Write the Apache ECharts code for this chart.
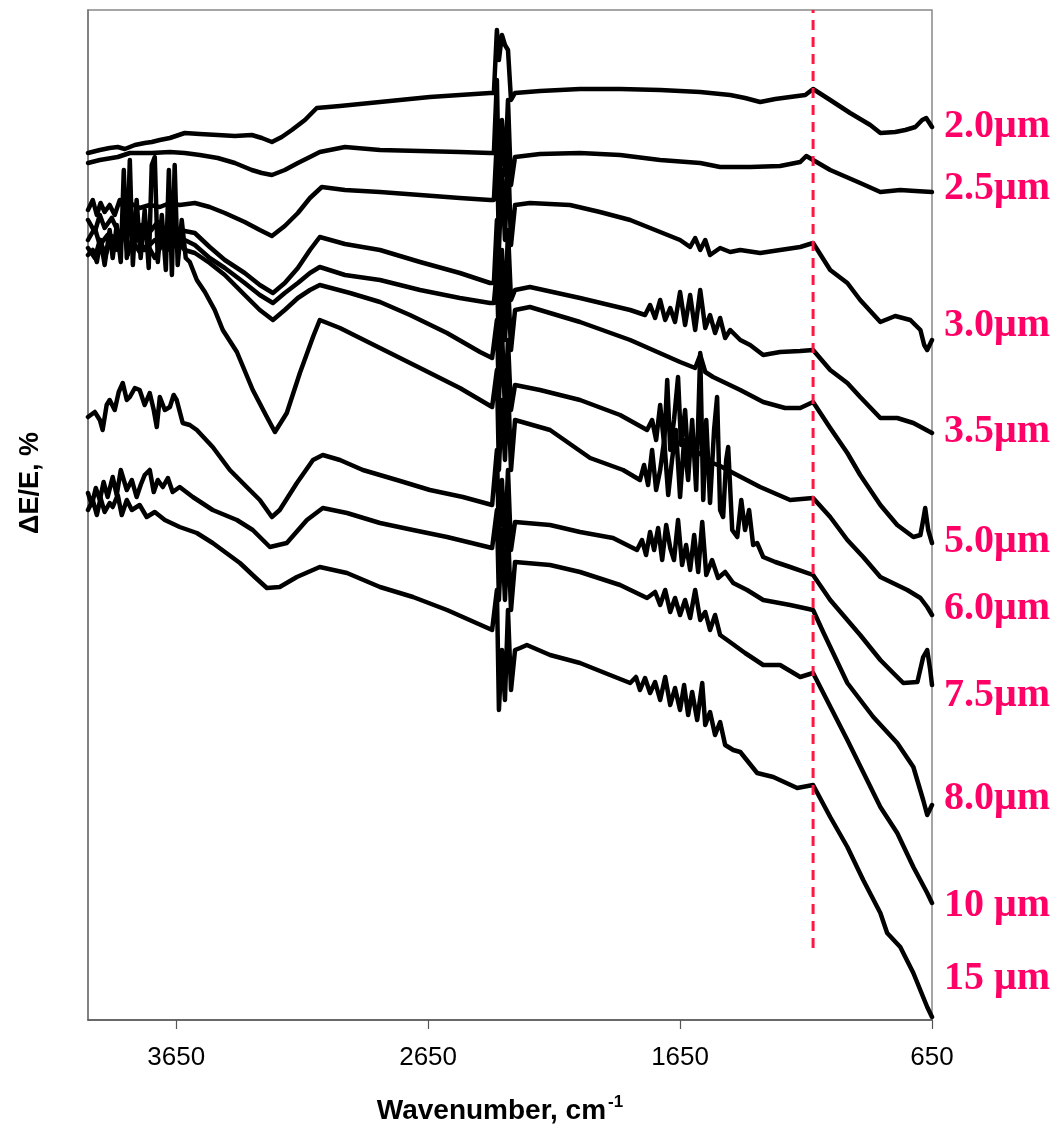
<!DOCTYPE html>
<html>
<head>
<meta charset="utf-8">
<script src="https://cdn.jsdelivr.net/npm/echarts@6/dist/echarts.min.js"></script>
<style>
html,body{margin:0;padding:0;background:#fff;}
#chart{width:1064px;height:1132px;}
</style>
</head>
<body>
<div id="chart"></div>
<script>
// Wavenumber tick labels (cm^-1)
const xTicks = [3650, 2650, 1650, 650];
// Curve labels (electrode thickness)
const labels = ['2.0\u03bcm','2.5\u03bcm','3.0\u03bcm','3.5\u03bcm','5.0\u03bcm','6.0\u03bcm','7.5\u03bcm','8.0\u03bcm','10 \u03bcm','15 \u03bcm'];
// Red dashed marker (wavenumber) and its extent in y
const markerWn = 1122;
const markerY = [7.2, 101];

// Spectra: [wavenumber, ΔE/E (offset, arbitrary units)]
const s2_0 = [[4000,86.7],[3953,87.0],[3914,87.2],[3882,87.3],[3854,87.1],[3814,87.5],[3775,87.7],[3747,87.8],[3715,88.0],[3675,88.2],[3616,88.7],[3556,88.6],[3485,88.5],[3417,88.4],[3350,88.5],[3310,88.2],[3270,87.8],[3231,88.3],[3191,89.0],[3139,90.0],[3092,91.2],[3000,91.4],[2881,91.7],[2762,92.0],[2643,92.3],[2524,92.5],[2404,92.7],[2389,92.7],[2377,99.0],[2369,96.0],[2357,98.5],[2345,97.5],[2333,97.0],[2321,92.0],[2305,92.7],[2206,92.9],[2047,93.1],[1888,93.1],[1729,93.0],[1570,92.8],[1451,92.5],[1392,92.2],[1332,91.8],[1272,92.1],[1213,92.3],[1153,92.5],[1122,93.1],[1054,92.0],[975,90.7],[895,89.5],[855,88.7],[796,88.8],[756,89.0],[716,89.3],[689,90.0],[673,90.2],[650,89.3]];
const s2_5 = [[4000,85.7],[3953,86.0],[3882,86.3],[3834,86.7],[3747,86.7],[3675,86.8],[3616,86.7],[3556,86.5],[3485,86.2],[3417,85.7],[3350,85.0],[3310,84.7],[3270,84.5],[3219,85.0],[3167,85.7],[3119,86.3],[3080,86.8],[2980,87.3],[2841,87.0],[2682,86.9],[2524,86.8],[2404,86.7],[2389,86.7],[2377,94.0],[2369,83.0],[2357,90.0],[2345,84.5],[2333,92.0],[2321,83.5],[2305,86.3],[2206,86.6],[2047,86.7],[1888,86.5],[1729,86.0],[1570,85.7],[1491,85.3],[1372,85.3],[1253,85.4],[1173,85.8],[1149,86.4],[1122,86.0],[1054,85.0],[935,83.7],[855,82.8],[776,83.0],[716,82.9],[650,82.8]];
const s3_0 = [[4000,81.0],[3981,82.0],[3965,80.5],[3950,81.7],[3934,80.8],[3914,81.5],[3894,80.5],[3874,82.0],[3854,81.0],[3834,81.7],[3795,81.2],[3755,81.5],[3715,81.3],[3675,81.7],[3636,81.5],[3576,81.7],[3517,81.3],[3457,80.7],[3378,79.8],[3318,79.0],[3270,78.4],[3219,79.4],[3167,80.7],[3119,82.2],[3072,83.3],[2980,83.0],[2841,82.8],[2682,82.5],[2524,82.2],[2404,82.0],[2389,82.0],[2377,88.0],[2369,77.0],[2357,85.0],[2345,78.0],[2333,87.0],[2321,77.5],[2305,81.5],[2246,81.7],[2087,81.5],[1968,80.8],[1848,80.0],[1729,78.8],[1650,78.0],[1610,77.3],[1590,78.2],[1570,77.0],[1550,78.0],[1531,76.5],[1491,77.2],[1451,76.8],[1411,77.0],[1332,76.7],[1253,77.0],[1173,77.3],[1122,77.7],[1054,75.0],[986,73.7],[935,72.0],[855,69.8],[796,70.4],[736,70.0],[696,69.0],[681,67.5],[669,67.0],[650,68.0]];
const s3_5 = [[4000,80.0],[3973,78.8],[3953,80.5],[3934,79.2],[3906,80.2],[3874,78.5],[3842,79.8],[3814,78.0],[3787,79.5],[3755,78.8],[3723,79.8],[3695,78.2],[3667,79.2],[3636,79.0],[3576,78.7],[3517,77.3],[3457,76.0],[3378,74.7],[3318,73.5],[3266,72.7],[3219,73.7],[3167,75.2],[3119,77.0],[3080,78.3],[2980,77.6],[2841,77.0],[2682,75.8],[2524,74.7],[2404,73.7],[2389,73.7],[2377,80.0],[2369,72.0],[2357,77.0],[2345,70.0],[2333,79.0],[2321,72.0],[2305,73.0],[2246,73.3],[2047,72.2],[1848,71.0],[1789,70.5],[1769,71.5],[1749,70.2],[1729,72.0],[1709,70.0],[1689,71.2],[1670,69.8],[1650,72.8],[1630,69.5],[1610,72.5],[1590,69.0],[1570,73.0],[1550,69.2],[1531,70.5],[1511,68.7],[1491,70.2],[1471,68.2],[1451,69.0],[1411,68.0],[1372,67.5],[1320,66.5],[1253,66.8],[1173,66.9],[1122,67.0],[1054,65.0],[986,63.7],[935,62.3],[855,60.2],[788,60.2],[724,59.7],[650,58.7]];
const s5_0 = [[4000,78.0],[3973,79.2],[3953,77.5],[3922,78.5],[3894,77.0],[3866,78.8],[3834,77.2],[3803,78.2],[3775,77.0],[3735,78.0],[3695,77.5],[3656,78.2],[3616,78.0],[3576,77.5],[3517,76.2],[3457,75.2],[3378,73.7],[3318,72.5],[3266,71.7],[3219,72.7],[3167,73.7],[3119,74.7],[3080,75.3],[2980,74.5],[2841,74.0],[2682,73.0],[2524,72.2],[2404,71.7],[2389,71.7],[2377,75.0],[2369,67.0],[2357,73.0],[2345,68.0],[2333,74.0],[2321,67.0],[2305,71.0],[2246,71.3],[2047,69.8],[1848,68.0],[1650,65.8],[1590,65.2],[1570,66.5],[1550,64.8],[1519,64.3],[1411,63.0],[1320,61.8],[1233,61.2],[1173,61.2],[1122,61.8],[1054,59.2],[986,56.7],[935,54.5],[855,51.5],[788,49.5],[724,48.3],[696,48.5],[685,50.0],[677,51.2],[665,49.0],[650,47.7]];
const s6_0 = [[4000,77.2],[3973,76.2],[3953,78.0],[3930,76.5],[3906,78.4],[3882,77.0],[3858,79.0],[3842,76.5],[3826,78.0],[3795,76.8],[3763,77.5],[3735,76.2],[3707,77.5],[3675,77.0],[3644,77.8],[3616,77.0],[3576,76.7],[3517,75.7],[3457,74.5],[3378,72.5],[3318,71.0],[3266,70.0],[3219,71.0],[3167,72.2],[3119,73.0],[3080,73.5],[2960,72.7],[2841,71.8],[2722,70.5],[2575,68.7],[2444,66.8],[2396,66.2],[2389,66.2],[2377,70.0],[2369,62.0],[2357,69.0],[2345,61.0],[2333,68.0],[2321,61.0],[2305,63.5],[2206,63.0],[2047,62.0],[1888,60.5],[1781,59.0],[1761,60.0],[1745,58.0],[1729,61.5],[1713,57.5],[1701,64.0],[1689,57.0],[1674,60.0],[1658,64.3],[1646,57.5],[1630,61.0],[1618,56.0],[1602,58.0],[1582,56.5],[1570,56.7],[1531,55.8],[1491,55.4],[1439,54.7],[1332,53.3],[1213,52.0],[1122,52.2],[1054,50.3],[986,48.0],[923,46.3],[855,44.3],[748,43.0],[696,42.2],[669,41.3],[650,40.5]];
const s7_5 = [[4000,76.5],[3981,77.0],[3965,75.8],[3950,78.0],[3934,75.5],[3914,79.0],[3902,76.2],[3886,79.5],[3870,75.8],[3858,85.0],[3846,76.2],[3834,86.0],[3822,75.5],[3807,82.0],[3791,76.2],[3775,81.0],[3759,75.2],[3747,85.5],[3735,86.3],[3723,75.8],[3707,80.5],[3691,75.0],[3679,85.0],[3667,74.5],[3656,85.5],[3644,75.5],[3628,80.0],[3612,76.2],[3596,75.8],[3568,74.0],[3536,72.8],[3497,71.0],[3465,69.0],[3409,66.8],[3346,63.0],[3290,60.3],[3258,58.8],[3211,60.7],[3159,64.7],[3107,68.3],[3080,70.0],[3000,69.2],[2841,67.2],[2682,65.2],[2524,63.2],[2396,61.3],[2389,61.3],[2377,65.0],[2369,55.0],[2357,62.0],[2345,56.0],[2333,64.0],[2321,55.0],[2305,60.0],[2166,59.0],[2007,56.2],[1876,55.0],[1809,54.0],[1793,55.5],[1777,53.5],[1761,57.0],[1745,53.0],[1729,55.0],[1713,58.0],[1697,52.5],[1682,56.0],[1666,59.0],[1650,52.3],[1634,58.0],[1618,54.0],[1602,60.0],[1586,53.0],[1570,66.7],[1558,52.0],[1546,60.0],[1531,51.7],[1515,59.0],[1503,62.3],[1491,51.0],[1479,50.3],[1467,56.0],[1459,57.3],[1443,49.0],[1423,48.3],[1407,52.0],[1392,49.0],[1376,51.0],[1360,47.5],[1344,47.7],[1320,46.3],[1272,45.8],[1213,45.3],[1122,44.5],[1054,42.0],[935,38.5],[855,36.0],[804,34.7],[764,33.7],[708,33.8],[685,36.3],[669,37.0],[657,35.0],[650,33.5]];
const s8_0 = [[4000,60.3],[3973,60.8],[3953,60.0],[3942,59.0],[3926,61.5],[3914,62.0],[3894,61.0],[3878,62.8],[3862,63.7],[3846,62.0],[3834,62.3],[3814,63.2],[3795,63.0],[3775,61.5],[3755,62.7],[3739,61.0],[3727,59.3],[3715,62.3],[3695,61.0],[3675,61.3],[3660,62.5],[3648,62.0],[3624,59.7],[3596,59.5],[3568,59.0],[3505,57.3],[3437,55.0],[3370,53.3],[3318,52.0],[3270,50.3],[3239,51.0],[3171,53.7],[3107,56.0],[3068,56.5],[3000,56.0],[2909,55.0],[2774,54.0],[2643,53.0],[2512,52.3],[2396,51.5],[2389,51.5],[2377,57.0],[2369,48.0],[2357,54.0],[2345,47.5],[2333,55.0],[2321,47.0],[2305,49.8],[2166,49.5],[2047,48.8],[1916,48.2],[1821,47.0],[1801,48.0],[1785,46.5],[1769,48.8],[1753,47.0],[1737,49.2],[1721,46.0],[1705,49.5],[1689,47.2],[1674,46.0],[1658,50.0],[1642,45.5],[1626,47.5],[1610,45.0],[1594,48.5],[1578,44.8],[1562,49.8],[1546,44.5],[1523,46.0],[1499,44.2],[1471,44.8],[1439,43.7],[1384,43.0],[1320,42.0],[1213,41.5],[1122,41.0],[1082,38.8],[986,33.7],[883,30.3],[788,27.7],[724,25.3],[685,22.0],[669,20.5],[650,21.5]];
const s10 = [[4000,52.7],[3985,51.5],[3969,53.2],[3953,52.0],[3938,53.8],[3922,52.3],[3902,54.3],[3886,52.5],[3870,55.0],[3846,53.0],[3826,54.0],[3807,52.3],[3791,53.5],[3775,54.5],[3755,55.0],[3739,52.8],[3723,54.0],[3703,53.3],[3683,54.2],[3664,52.8],[3636,53.3],[3584,52.3],[3505,51.0],[3409,50.0],[3346,49.0],[3278,47.3],[3211,47.7],[3131,50.0],[3068,51.2],[2972,50.7],[2841,49.7],[2710,49.0],[2575,48.3],[2396,47.2],[2389,47.2],[2377,51.0],[2369,42.0],[2357,49.0],[2345,42.0],[2333,49.0],[2321,41.0],[2305,45.8],[2166,45.5],[2047,44.8],[1888,43.5],[1781,42.2],[1749,42.8],[1729,41.5],[1709,43.0],[1689,40.8],[1670,42.2],[1650,40.5],[1630,42.0],[1610,40.2],[1590,43.0],[1570,40.0],[1550,40.8],[1531,39.0],[1511,40.5],[1491,38.5],[1463,38.0],[1392,36.7],[1320,35.5],[1253,35.5],[1173,34.3],[1122,34.7],[986,28.0],[855,21.3],[788,18.7],[724,15.3],[669,12.7],[650,11.7]];
const s15 = [[4000,51.0],[3981,52.0],[3965,50.5],[3950,52.2],[3934,50.8],[3914,51.7],[3902,51.3],[3882,52.5],[3866,50.5],[3846,52.0],[3826,51.0],[3795,51.5],[3767,50.3],[3735,50.8],[3695,50.0],[3636,49.3],[3568,48.7],[3505,47.7],[3397,45.7],[3338,44.3],[3290,43.2],[3239,43.3],[3171,44.3],[3080,45.3],[2972,44.7],[2841,43.3],[2710,42.3],[2575,41.0],[2396,39.0],[2389,39.0],[2377,43.0],[2369,31.0],[2357,37.0],[2345,32.0],[2333,41.0],[2321,33.0],[2305,37.0],[2285,37.2],[2258,37.5],[2166,36.5],[2047,35.7],[1928,34.5],[1848,33.7],[1825,34.3],[1809,33.0],[1789,34.2],[1769,32.7],[1749,33.8],[1729,32.0],[1709,34.3],[1689,31.5],[1670,33.2],[1650,31.0],[1634,33.5],[1618,30.5],[1602,32.8],[1582,30.0],[1562,33.7],[1550,29.5],[1531,30.8],[1511,28.5],[1491,29.8],[1471,27.5],[1439,27.0],[1411,26.8],[1344,24.7],[1280,24.3],[1185,23.2],[1122,23.5],[1054,20.3],[986,17.3],[923,14.0],[855,10.7],[828,8.7],[776,7.3],[724,4.7],[669,1.3],[650,0.3]];

const curves = [s2_0, s2_5, s3_0, s3_5, s5_0, s6_0, s7_5, s8_0, s10, s15];

const chart = echarts.init(document.getElementById('chart'), null, {renderer: 'canvas'});

const series = curves.map((d, i) => ({
  name: labels[i],
  type: 'line',
  data: d,
  showSymbol: false,
  symbol: 'none',
  silent: true,
  clip: true,
  z: 2,
  lineStyle: {color: '#000', width: 4.5, cap: 'round', join: 'round'}
}));
series.push({
  type: 'line',
  data: [[markerWn, markerY[0]], [markerWn, markerY[1]]],
  showSymbol: false,
  symbol: 'none',
  silent: true,
  z: 5,
  lineStyle: {color: '#FF1744', width: 3, type: [10, 7]}
});

// right-hand labels: y centre (px) for each label
const labelY = [128, 190, 327, 433, 543, 610, 697, 800, 907, 980];
const graphics = labels.map((t, i) => ({
  type: 'text',
  left: 944,
  top: labelY[i] - 21,
  style: {
    text: t,
    fill: '#FF0066',
    font: 'bold 40px "Liberation Serif", "Times New Roman", serif'
  }
}));
graphics.push({
  type: 'text',
  x: 31, y: 483,
  rotation: Math.PI / 2,
  style: {
    text: '\u0394E/E, %',
    fill: '#000',
    font: 'bold 27px "Liberation Sans", Arial, sans-serif',
    align: 'center',
    verticalAlign: 'middle'
  }
});

chart.setOption({
  animation: false,
  backgroundColor: '#fff',
  grid: {left: 88, top: 10, width: 844, height: 1010, show: true, borderColor: '#888', borderWidth: 1.5, backgroundColor: 'transparent'},
  xAxis: {
    type: 'value', inverse: true, min: 650, max: 4000,
    axisLine: {show: true, lineStyle: {color: '#555', width: 1.5}},
    axisTick: {show: true, customValues: xTicks, length: 9, lineStyle: {color: '#555', width: 1.2}},
    axisLabel: {show: true, customValues: xTicks, margin: 25, color: '#000', fontSize: 26,
      fontFamily: '"Liberation Sans", Arial, sans-serif',
      formatter: v => String(v)},
    splitLine: {show: false},
    name: '{a|Wavenumber, cm}{b|-1}',
    nameLocation: 'middle',
    nameGap: 74,
    nameTextStyle: {
      padding: [0, 20, 0, 0],
      rich: {
        a: {fontSize: 28, fontWeight: 'bold', color: '#000', fontFamily: '"Liberation Sans", Arial, sans-serif', verticalAlign: 'bottom'},
        b: {fontSize: 17, fontWeight: 'bold', color: '#000', fontFamily: '"Liberation Sans", Arial, sans-serif', verticalAlign: 'top', padding: [0, 0, 14, 2]}
      }
    }
  },
  yAxis: {
    type: 'value', min: 0, max: 101,
    axisLine: {show: true, lineStyle: {color: '#777', width: 1.5}},
    axisTick: {show: false},
    axisLabel: {show: false},
    splitLine: {show: false}
  },
  graphic: graphics,
  series: series
});
</script>
</body>
</html>
